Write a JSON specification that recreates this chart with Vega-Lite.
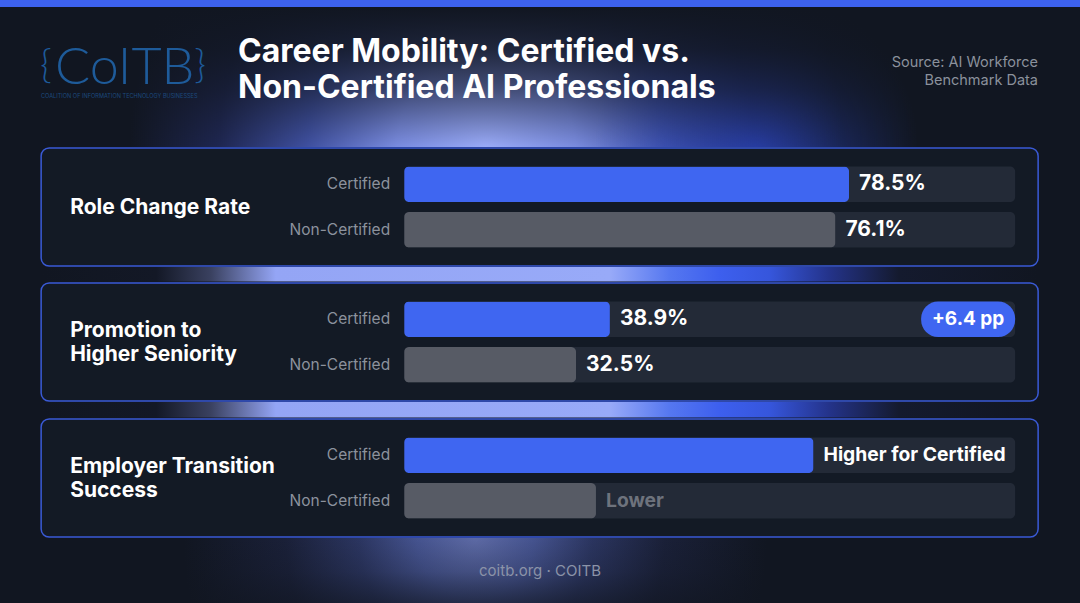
{
  "$schema": "https://vega.github.io/schema/vega-lite/v6.json",
  "background": "#111621",
  "padding": 0,
  "spacing": 0,
  "center": true,
  "config": {
    "view": {"stroke": null},
    "axis": {"disable": true},
    "legend": {"disable": true},
    "font": "Inter"
  },
  "datasets": {
    "role": [
      {"metric": "Role Change Rate", "group": "Certified", "value": 78.5, "label": "78.5%"},
      {"metric": "Role Change Rate", "group": "Non-Certified", "value": 76.1, "label": "76.1%"}
    ],
    "promotion": [
      {"metric": "Promotion to Higher Seniority", "group": "Certified", "value": 38.9, "label": "38.9%"},
      {"metric": "Promotion to Higher Seniority", "group": "Non-Certified", "value": 32.5, "label": "32.5%"}
    ],
    "employer": [
      {"metric": "Employer Transition Success", "group": "Certified", "value": 67, "label": "Higher for Certified"},
      {"metric": "Employer Transition Success", "group": "Non-Certified", "value": 31.4, "label": "Lower"}
    ]
  },
  "vconcat": [
    {
      "width": 1080, "height": 7,
      "view": {"fill": "#3d62ee", "stroke": null},
      "data": {"values": []},
      "mark": "rect",
      "encoding": {}
    },
    {
      "width": 1080, "height": 140,
      "layer": [
        {
          "data": {"values": [{}]},
          "mark": {"type": "rect", "fill": {"gradient": "radial", "x1": 0.45, "y1": 0.565, "r1": 0, "x2": 0.45, "y2": 0.565, "r2": 0.33,
            "stops": [
              {"offset": 0, "color": "#9aabf8"},
              {"offset": 0.25, "color": "#7a8ce0"},
              {"offset": 0.5, "color": "#3f50a0"},
              {"offset": 0.75, "color": "#1e2650"},
              {"offset": 1, "color": "#111621"}
            ]}},
          "encoding": {"x": {"value": 0}, "x2": {"value": "width"}, "y": {"value": 0}, "y2": {"value": "height"}}
        },
        {
          "data": {"values": [{}]},
          "mark": {"type": "rect", "fill": {"gradient": "radial", "x1": 0.7, "y1": 0.565, "r1": 0, "x2": 0.7, "y2": 0.565, "r2": 0.15,
            "stops": [
              {"offset": 0, "color": "rgba(45,75,215,0.6)"},
              {"offset": 1, "color": "rgba(45,75,215,0)"}
            ]}},
          "encoding": {"x": {"value": 0}, "x2": {"value": "width"}, "y": {"value": 0}, "y2": {"value": "height"}}
        },
        {
          "data": {"values": [{}]},
          "mark": {"type": "rect", "fill": {"gradient": "linear", "x1": 0, "y1": 0, "x2": 0, "y2": 1,
            "stops": [
              {"offset": 0, "color": "rgba(17,22,33,1)"},
              {"offset": 0.3, "color": "rgba(17,22,33,0.85)"},
              {"offset": 0.6, "color": "rgba(17,22,33,0.55)"},
              {"offset": 0.85, "color": "rgba(17,22,33,0.2)"},
              {"offset": 1, "color": "rgba(17,22,33,0)"}
            ]}},
          "encoding": {"x": {"value": 0}, "x2": {"value": "width"}, "y": {"value": 0}, "y2": {"value": "height"}}
        },
        {
          "data": {"values": [{"text": "{"}]},
          "mark": {"type": "text", "align": "left", "baseline": "alphabetic", "dx": 40, "dy": 71, "font": "Lato", "fontWeight": 300, "fontSize": 40, "color": "#1e5b9a"},
          "encoding": {"x": {"value": 0}, "y": {"value": 0}, "text": {"field": "text"}}
        },
        {
          "data": {"values": [{"text": "CoITB"}]},
          "mark": {"type": "text", "align": "left", "baseline": "alphabetic", "dx": 55, "dy": 77, "font": "Lato", "fontWeight": 300, "fontSize": 52, "color": "#1e5b9a"},
          "encoding": {"x": {"value": 0}, "y": {"value": 0}, "text": {"field": "text"}}
        },
        {
          "data": {"values": [{"text": "}"}]},
          "mark": {"type": "text", "align": "right", "baseline": "alphabetic", "dx": 206, "dy": 71, "font": "Lato", "fontWeight": 300, "fontSize": 40, "color": "#1e5b9a"},
          "encoding": {"x": {"value": 0}, "y": {"value": 0}, "text": {"field": "text"}}
        },
        {
          "data": {"values": [{"text": "COALITION OF INFORMATION TECHNOLOGY BUSINESSES"}]},
          "mark": {"type": "text", "align": "left", "baseline": "alphabetic", "dx": 41, "dy": 91, "fontSize": 5.6, "color": "#1c4a7e"},
          "encoding": {"x": {"value": 0}, "y": {"value": 0}, "text": {"field": "text"}}
        },
        {
          "data": {"values": [{"text": "Career Mobility: Certified vs.\nNon-Certified AI Professionals"}]},
          "mark": {"type": "text", "align": "left", "baseline": "alphabetic", "dx": 238, "dy": 55, "fontSize": 32, "fontWeight": 700, "color": "#ffffff", "lineBreak": "\n", "lineHeight": 36},
          "encoding": {"x": {"value": 0}, "y": {"value": 0}, "text": {"field": "text"}}
        },
        {
          "data": {"values": [{"text": "Source: AI Workforce\nBenchmark Data"}]},
          "mark": {"type": "text", "align": "right", "baseline": "alphabetic", "dx": -42, "dy": 59.5, "fontSize": 14.5, "color": "#8b919c", "lineBreak": "\n", "lineHeight": 18.5},
          "encoding": {"x": {"value": "width"}, "y": {"value": 0}, "text": {"field": "text"}}
        }
      ]
    },
    {
      "width": 997, "height": 118,
      "view": {"fill": "#131a25", "stroke": "#3a5ad6", "strokeWidth": 1.5, "cornerRadius": 8},
      "layer": [
        {
          "data": {"name": "role"},
          "mark": {"type": "bar", "color": "#232a37", "cornerRadius": 5},
          "encoding": {
            "y": {"field": "group", "type": "nominal", "scale": {"domain": ["Certified", "Non-Certified"], "paddingInner": 0.22, "paddingOuter": 0.41}},
            "x": {"datum": 0, "type": "quantitative", "scale": {"domain": [0, 107.8], "range": [363, 974], "nice": false}},
            "x2": {"datum": 107.8}
          }
        },
        {
          "data": {"name": "role"},
          "mark": {"type": "bar", "cornerRadius": 5},
          "encoding": {
            "y": {"field": "group", "type": "nominal"},
            "x": {"field": "value", "type": "quantitative"},
            "color": {"field": "group", "type": "nominal", "scale": {"domain": ["Certified", "Non-Certified"], "range": ["#3f66f1", "#575b65"]}}
          }
        },
        {
          "data": {"name": "role"},
          "mark": {"type": "text", "align": "right", "dx": -14, "fontSize": 15.5, "color": "#8c929d"},
          "encoding": {"y": {"field": "group", "type": "nominal"}, "x": {"datum": 0, "type": "quantitative"}, "text": {"field": "group"}}
        },
        {
          "data": {"name": "role"},
          "mark": {"type": "text", "align": "left", "dx": 10, "fontSize": 21, "fontWeight": 700, "color": "#ffffff"},
          "encoding": {"y": {"field": "group", "type": "nominal"}, "x": {"field": "value", "type": "quantitative"}, "text": {"field": "label"}}
        },
        {
          "data": {"values": [{"metric": "Role Change Rate"}]},
          "mark": {"type": "text", "align": "left", "baseline": "middle", "dx": 29, "dy": 1, "fontSize": 21, "fontWeight": 700, "color": "#ffffff", "lineBreak": "\n", "lineHeight": 24},
          "encoding": {"x": {"value": 0}, "text": {"field": "metric"}}
        }
      ]
    },
    {
      "width": 997, "height": 14.5,
      "layer": [
        {
          "data": {"values": [{}]},
          "mark": {"type": "rect", "fill": {"gradient": "linear", "x1": 0, "y1": 0, "x2": 1, "y2": 0, "stops": [
            {"offset": 0, "color": "#111621"},
            {"offset": 0.115, "color": "#131826"},
            {"offset": 0.17, "color": "#3a4160"},
            {"offset": 0.235, "color": "#94a5f5"},
            {"offset": 0.57, "color": "#98aaf8"},
            {"offset": 0.63, "color": "#5577f0"},
            {"offset": 0.68, "color": "#3d5fee"},
            {"offset": 0.73, "color": "#3656dc"},
            {"offset": 0.79, "color": "#24338a"},
            {"offset": 0.86, "color": "#141a2e"},
            {"offset": 1, "color": "#111621"}
          ]}},
          "encoding": {"x": {"value": 0}, "x2": {"value": "width"}, "y": {"value": 0}, "y2": {"value": "height"}}
        }
      ]
    },
    {
      "width": 997, "height": 118,
      "view": {"fill": "#131a25", "stroke": "#3a5ad6", "strokeWidth": 1.5, "cornerRadius": 8},
      "layer": [
        {
          "data": {"name": "promotion"},
          "mark": {"type": "bar", "color": "#232a37", "cornerRadius": 5},
          "encoding": {
            "y": {"field": "group", "type": "nominal", "scale": {"domain": ["Certified", "Non-Certified"], "paddingInner": 0.22, "paddingOuter": 0.41}},
            "x": {"datum": 0, "type": "quantitative", "scale": {"domain": [0, 115.5], "range": [363, 974], "nice": false}},
            "x2": {"datum": 115.5}
          }
        },
        {
          "data": {"name": "promotion"},
          "mark": {"type": "bar", "cornerRadius": 5},
          "encoding": {
            "y": {"field": "group", "type": "nominal"},
            "x": {"field": "value", "type": "quantitative"},
            "color": {"field": "group", "type": "nominal", "scale": {"domain": ["Certified", "Non-Certified"], "range": ["#3f66f1", "#575b65"]}}
          }
        },
        {
          "data": {"name": "promotion"},
          "mark": {"type": "text", "align": "right", "dx": -14, "fontSize": 15.5, "color": "#8c929d"},
          "encoding": {"y": {"field": "group", "type": "nominal"}, "x": {"datum": 0, "type": "quantitative"}, "text": {"field": "group"}}
        },
        {
          "data": {"name": "promotion"},
          "mark": {"type": "text", "align": "left", "dx": 10, "fontSize": 21, "fontWeight": 700, "color": "#ffffff"},
          "encoding": {"y": {"field": "group", "type": "nominal"}, "x": {"field": "value", "type": "quantitative"}, "text": {"field": "label"}}
        },
        {
          "data": {"values": [{"group": "Certified", "badge": "+6.4 pp"}]},
          "mark": {"type": "rect", "color": "#3f66f1", "cornerRadius": 17, "xOffset": -94},
          "encoding": {"y": {"field": "group", "type": "nominal"}, "x": {"datum": 115.5, "type": "quantitative"}, "x2": {"datum": 115.5}}
        },
        {
          "data": {"values": [{"group": "Certified", "badge": "+6.4 pp"}]},
          "mark": {"type": "text", "align": "center", "dx": -47, "fontSize": 19, "fontWeight": 700, "color": "#ffffff"},
          "encoding": {"y": {"field": "group", "type": "nominal"}, "x": {"datum": 115.5, "type": "quantitative"}, "text": {"field": "badge"}}
        },
        {
          "data": {"values": [{"metric": "Promotion to\nHigher Seniority"}]},
          "mark": {"type": "text", "align": "left", "baseline": "middle", "dx": 29, "dy": -11, "fontSize": 21, "fontWeight": 700, "color": "#ffffff", "lineBreak": "\n", "lineHeight": 24},
          "encoding": {"x": {"value": 0}, "text": {"field": "metric"}}
        }
      ]
    },
    {
      "width": 997, "height": 15.5,
      "layer": [
        {
          "data": {"values": [{}]},
          "mark": {"type": "rect", "fill": {"gradient": "linear", "x1": 0, "y1": 0, "x2": 1, "y2": 0, "stops": [
            {"offset": 0, "color": "#111621"},
            {"offset": 0.115, "color": "#131826"},
            {"offset": 0.17, "color": "#3a4160"},
            {"offset": 0.235, "color": "#94a5f5"},
            {"offset": 0.57, "color": "#98aaf8"},
            {"offset": 0.63, "color": "#5577f0"},
            {"offset": 0.68, "color": "#3d5fee"},
            {"offset": 0.73, "color": "#3656dc"},
            {"offset": 0.79, "color": "#24338a"},
            {"offset": 0.86, "color": "#141a2e"},
            {"offset": 1, "color": "#111621"}
          ]}},
          "encoding": {"x": {"value": 0}, "x2": {"value": "width"}, "y": {"value": 0}, "y2": {"value": "height"}}
        }
      ]
    },
    {
      "width": 997, "height": 118,
      "view": {"fill": "#131a25", "stroke": "#3a5ad6", "strokeWidth": 1.5, "cornerRadius": 8},
      "layer": [
        {
          "data": {"name": "employer"},
          "mark": {"type": "bar", "color": "#232a37", "cornerRadius": 5},
          "encoding": {
            "y": {"field": "group", "type": "nominal", "scale": {"domain": ["Certified", "Non-Certified"], "paddingInner": 0.22, "paddingOuter": 0.41}},
            "x": {"datum": 0, "type": "quantitative", "scale": {"domain": [0, 100], "range": [363, 974], "nice": false}},
            "x2": {"datum": 100}
          }
        },
        {
          "data": {"name": "employer"},
          "mark": {"type": "bar", "cornerRadius": 5},
          "encoding": {
            "y": {"field": "group", "type": "nominal"},
            "x": {"field": "value", "type": "quantitative"},
            "color": {"field": "group", "type": "nominal", "scale": {"domain": ["Certified", "Non-Certified"], "range": ["#3f66f1", "#575b65"]}}
          }
        },
        {
          "data": {"name": "employer"},
          "mark": {"type": "text", "align": "right", "dx": -14, "fontSize": 15.5, "color": "#8c929d"},
          "encoding": {"y": {"field": "group", "type": "nominal"}, "x": {"datum": 0, "type": "quantitative"}, "text": {"field": "group"}}
        },
        {
          "data": {"name": "employer"},
          "mark": {"type": "text", "align": "left", "dx": 10, "fontSize": 19.3, "fontWeight": 700},
          "encoding": {
            "y": {"field": "group", "type": "nominal"},
            "x": {"field": "value", "type": "quantitative"},
            "text": {"field": "label"},
            "color": {"condition": {"test": "datum.group === 'Certified'", "value": "#ffffff"}, "value": "#6e737d"}
          }
        },
        {
          "data": {"values": [{"metric": "Employer Transition\nSuccess"}]},
          "mark": {"type": "text", "align": "left", "baseline": "middle", "dx": 29, "dy": -11, "fontSize": 21, "fontWeight": 700, "color": "#ffffff", "lineBreak": "\n", "lineHeight": 24},
          "encoding": {"x": {"value": 0}, "text": {"field": "metric"}}
        }
      ]
    },
    {
      "width": 1080, "height": 67.5,
      "layer": [
        {
          "data": {"values": [{}]},
          "mark": {"type": "rect", "fill": {"gradient": "radial", "x1": 0.44, "y1": 0.469, "r1": 0, "x2": 0.44, "y2": 0.469, "r2": 0.27,
            "stops": [
              {"offset": 0, "color": "#5d6aa5"},
              {"offset": 0.2, "color": "#45538f"},
              {"offset": 0.4, "color": "#2b3560"},
              {"offset": 0.65, "color": "#1a2038"},
              {"offset": 1, "color": "#111621"}
            ]}},
          "encoding": {"x": {"value": 0}, "x2": {"value": "width"}, "y": {"value": 0}, "y2": {"value": "height"}}
        },
        {
          "data": {"values": [{}]},
          "mark": {"type": "rect", "fill": {"gradient": "linear", "x1": 0, "y1": 0, "x2": 0, "y2": 1,
            "stops": [
              {"offset": 0, "color": "rgba(17,22,33,0)"},
              {"offset": 0.5, "color": "rgba(17,22,33,0.2)"},
              {"offset": 1, "color": "rgba(17,22,33,0.65)"}
            ]}},
          "encoding": {"x": {"value": 0}, "x2": {"value": "width"}, "y": {"value": 0}, "y2": {"value": "height"}}
        },
        {
          "data": {"values": [{"text": "coitb.org · COITB"}]},
          "mark": {"type": "text", "align": "center", "baseline": "middle", "dy": -1, "fontSize": 15, "color": "#8b93a8"},
          "encoding": {"text": {"field": "text"}}
        }
      ]
    }
  ]
}
